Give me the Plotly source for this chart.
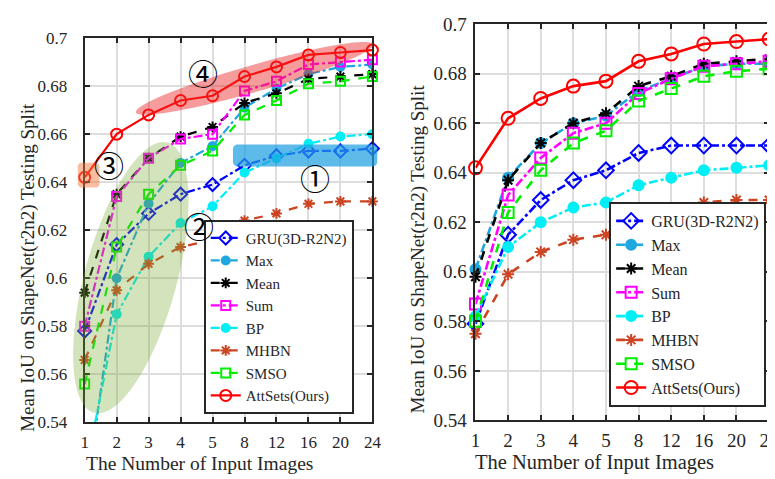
import numpy as np
import plotly.graph_objects as go

# ---------------- data ----------------
x_labels = ["1", "2", "3", "4", "5", "8", "12", "16", "20", "24"]
y_tick_vals = [0.54, 0.56, 0.58, 0.60, 0.62, 0.64, 0.66, 0.68, 0.70]
y_tick_text = ["0.54", "0.56", "0.58", "0.6", "0.62", "0.64", "0.66", "0.68", "0.7"]

series_names = ["GRU(3D-R2N2)", "Max", "Mean", "Sum", "BP", "MHBN", "SMSO", "AttSets(Ours)"]

# left panel
left_gru = [0.578, 0.614, 0.627, 0.635, 0.639, 0.647, 0.651, 0.653, 0.653, 0.654]
left_max = [0.506, 0.600, 0.631, 0.648, 0.655, 0.671, 0.679, 0.685, 0.688, 0.689]
left_mean = [0.594, 0.635, 0.650, 0.659, 0.663, 0.673, 0.677, 0.683, 0.684, 0.685]
left_sum = [0.580, 0.634, 0.650, 0.658, 0.660, 0.678, 0.682, 0.689, 0.690, 0.691]
left_bp = [0.518, 0.585, 0.609, 0.623, 0.630, 0.644, 0.650, 0.656, 0.659, 0.660]
left_mhbn = [0.566, 0.595, 0.606, 0.613, 0.616, 0.624, 0.627, 0.631, 0.632, 0.632]
left_smso = [0.556, 0.613, 0.635, 0.647, 0.653, 0.668, 0.674, 0.681, 0.682, 0.684]
left_attsets = [0.642, 0.660, 0.668, 0.674, 0.676, 0.684, 0.688, 0.693, 0.694, 0.695]

# right panel
right_gru = [0.579, 0.615, 0.629, 0.637, 0.641, 0.648, 0.651, 0.651, 0.651, 0.651]
right_max = [0.601, 0.638, 0.652, 0.660, 0.663, 0.673, 0.678, 0.683, 0.684, 0.684]
right_mean = [0.598, 0.637, 0.652, 0.660, 0.664, 0.675, 0.679, 0.684, 0.685, 0.686]
right_sum = [0.587, 0.631, 0.646, 0.656, 0.660, 0.672, 0.678, 0.683, 0.684, 0.685]
right_bp = [0.582, 0.610, 0.620, 0.626, 0.628, 0.635, 0.638, 0.641, 0.642, 0.643]
right_mhbn = [0.575, 0.599, 0.608, 0.613, 0.615, 0.622, 0.624, 0.628, 0.629, 0.629]
right_smso = [0.580, 0.624, 0.641, 0.652, 0.657, 0.669, 0.674, 0.679, 0.681, 0.682]
right_attsets = [0.642, 0.662, 0.670, 0.675, 0.677, 0.685, 0.688, 0.692, 0.693, 0.694]

left_series = [left_gru, left_max, left_mean, left_sum, left_bp, left_mhbn, left_smso, left_attsets]
right_series = [right_gru, right_max, right_mean, right_sum, right_bp, right_mhbn, right_smso, right_attsets]

# ---------------- styles ----------------
colors = ["#0000ff", "#1ea8de", "#000000", "#ff00ff", "#00eef5", "#cc4422", "#00ee00", "#ff0000"]
dashes = ["dashdot", "dashdot", "dash", "dashdot", "dashdot", "dash", "dash", "solid"]
symbols = ["diamond-open", "circle", "asterisk-open", "square-open", "circle",
           "asterisk-open", "square-open", "circle-open"]
msize_l = [10, 8, 9, 9, 8, 9, 9, 11]
msize_r = [12, 10, 10, 11, 10, 10, 11, 13]

W, H = 775, 479
FONT = "Liberation Serif, Times New Roman, serif"
TXT = "#262626"
YMIN, YMAX = 0.54, 0.70

# pixel boxes of the two axes (left, right, top, bottom)
box_l = (73, 366, 22, 423)
box_r = (471, 770, 7.5, 421)


def px(xp):
    return xp / W


def py(yp):
    return 1 - yp / H


xi = list(range(len(x_labels)))
fig = go.Figure()

for k, name in enumerate(series_names):
    for vals, xa, ya, leg, ms, lw in [
        (left_series[k], "x", "y", "legend", msize_l[k], 2.2),
        (right_series[k], "x2", "y2", "legend2", msize_r[k], 2.6),
    ]:
        out_of_range = any(v < YMIN or v > YMAX for v in vals)
        fig.add_trace(go.Scatter(
            x=xi, y=vals, name=name, xaxis=xa, yaxis=ya, legend=leg,
            mode="lines+markers",
            cliponaxis=out_of_range,
            line=dict(color=colors[k], width=lw, dash=dashes[k]),
            marker=dict(symbol=symbols[k], size=ms, color=colors[k],
                        line=dict(color=colors[k], width=2)),
        ))

axis_common = dict(
    showgrid=True, gridcolor="#dddddd", gridwidth=1.5,
    showline=True, linecolor=TXT, linewidth=2, mirror="ticks",
    ticks="inside", ticklen=5, tickcolor=TXT, tickwidth=1.5,
    zeroline=False, color=TXT,
)

fig.update_layout(
    template="simple_white",
    width=W, height=H,
    margin=dict(l=0, r=0, t=0, b=0),
    paper_bgcolor="white", plot_bgcolor="white",
    font=dict(family=FONT, color=TXT),
    xaxis=dict(domain=[px(box_l[0]), px(box_l[1])], range=[0, len(x_labels) - 1],
               tickvals=xi, ticktext=x_labels, anchor="y",
               tickfont=dict(size=17, family=FONT), ticklabelstandoff=3, **axis_common),
    yaxis=dict(domain=[py(box_l[3]), py(box_l[2])], range=[YMIN, YMAX],
               tickvals=y_tick_vals, ticktext=y_tick_text, anchor="x",
               tickfont=dict(size=17, family=FONT), ticklabelstandoff=12, **axis_common),
    xaxis2=dict(domain=[px(box_r[0]), px(box_r[1])], range=[0, len(x_labels) - 1],
                tickvals=xi, ticktext=x_labels, anchor="y2",
                tickfont=dict(size=19, family=FONT), ticklabelstandoff=2, **axis_common),
    yaxis2=dict(domain=[py(box_r[3]), py(box_r[2])], range=[YMIN, YMAX],
                tickvals=y_tick_vals, ticktext=y_tick_text, anchor="x2",
                tickfont=dict(size=19, family=FONT), ticklabelstandoff=3, **axis_common),
    legend=dict(x=px(347), y=py(414), xanchor="right", yanchor="bottom",
                bgcolor="white", bordercolor=TXT, borderwidth=2,
                font=dict(family=FONT, size=15, color=TXT), tracegroupgap=0,
                itemwidth=30),
    legend2=dict(x=px(767), y=py(407), xanchor="right", yanchor="bottom",
                 bgcolor="white", bordercolor=TXT, borderwidth=2,
                 font=dict(family=FONT, size=16, color=TXT), tracegroupgap=0,
                 itemwidth=30),
)


# ---------------- highlight shapes (pixel geometry -> paper) ----------------
def ellipse_path(cx, cy, a, b, ang_deg, n=80):
    t = np.linspace(0, 2 * np.pi, n)
    th = np.deg2rad(ang_deg)
    ex = cx + a * np.cos(t) * np.cos(th) - b * np.sin(t) * np.sin(th)
    ey = cy - (a * np.cos(t) * np.sin(th) + b * np.sin(t) * np.cos(th))
    pts = [f"{px(u):.5f},{py(v):.5f}" for u, v in zip(ex, ey)]
    return "M" + " L".join(pts) + " Z"


def rounded_rect_path(x0, y0, x1, y1, r, n=8):
    pts = []
    corners = [(x1 - r, y0 + r, -90), (x1 - r, y1 - r, 0), (x0 + r, y1 - r, 90), (x0 + r, y0 + r, 180)]
    for cx, cy, start in corners:
        for ang in np.linspace(start, start + 90, n):
            a = np.deg2rad(ang)
            pts.append((cx + r * np.cos(a), cy + r * np.sin(a)))
    s = [f"{px(u):.5f},{py(v):.5f}" for u, v in pts]
    return "M" + " L".join(s) + " Z"


shapes = [
    dict(type="path", path=ellipse_path(120, 272, 146, 47, 75.2),
         fillcolor="rgba(119,172,48,0.32)"),
    dict(type="path", path=ellipse_path(246, 64, 126, 14, 16.4),
         fillcolor="rgba(235,40,40,0.46)"),
    dict(type="path", path=rounded_rect_path(224, 133, 371, 156, 5),
         fillcolor="rgba(30,160,225,0.72)"),
    dict(type="path", path=rounded_rect_path(66, 152, 88, 178, 4),
         fillcolor="rgba(240,120,60,0.48)"),
]
for s in shapes:
    s.update(xref="paper", yref="paper", layer="above", opacity=1,
             line=dict(width=0))
fig.update_layout(shapes=shapes)

# ---------------- text annotations ----------------
annos = []
for txt, xp_, yp_ in [("①", 308, 167), ("②", 189, 217), ("③", 98, 153), ("④", 194, 57)]:
    annos.append(dict(text=txt, x=px(xp_), y=py(yp_), xref="paper", yref="paper",
                      showarrow=False, xanchor="center", yanchor="middle",
                      font=dict(family="Noto Sans CJK SC", size=30, color="#000000")))

ytitle = "Mean IoU on ShapeNet(r2n2) Testing Split"
xtitle = "The Number of Input Images"
annos += [
    dict(text=ytitle, x=px(15), y=py(261), textangle=-90, xref="paper", yref="paper",
         showarrow=False, xanchor="center", yanchor="middle",
         font=dict(family=FONT, size=19, color=TXT)),
    dict(text=ytitle, x=px(412), y=py(242), textangle=-90, xref="paper", yref="paper",
         showarrow=False, xanchor="center", yanchor="middle",
         font=dict(family=FONT, size=19, color=TXT)),
    dict(text=xtitle, x=px(190), y=py(466), xref="paper", yref="paper",
         showarrow=False, xanchor="center", yanchor="middle",
         font=dict(family=FONT, size=19.5, color=TXT)),
    dict(text=xtitle, x=px(592), y=py(465), xref="paper", yref="paper",
         showarrow=False, xanchor="center", yanchor="middle",
         font=dict(family=FONT, size=20.5, color=TXT)),
]
fig.update_layout(annotations=annos)

fig.write_html("out.html")
